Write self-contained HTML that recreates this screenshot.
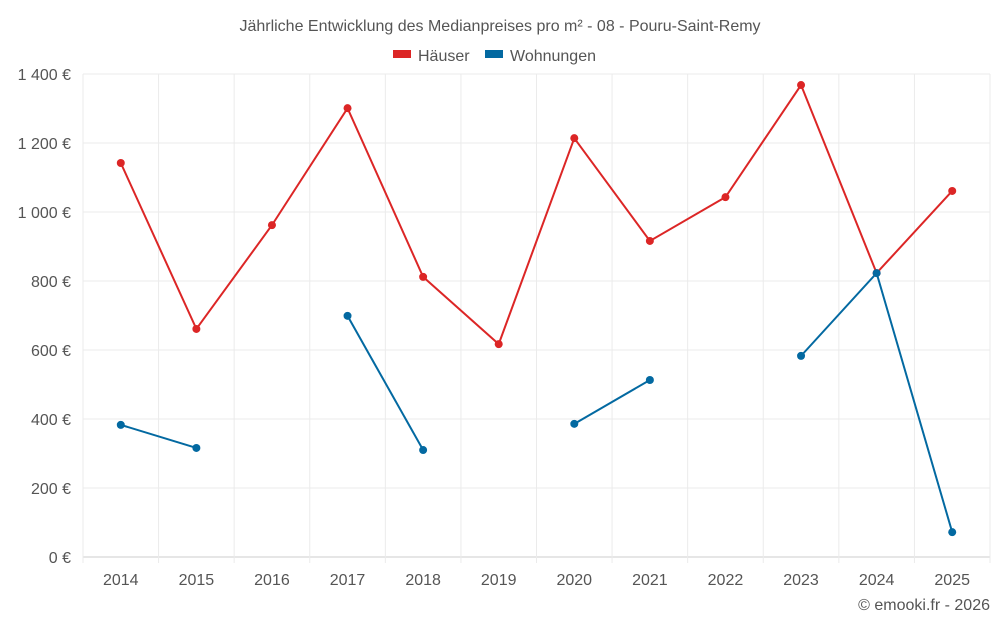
<!DOCTYPE html>
<html><head><meta charset="utf-8">
<style>
body{margin:0;background:#fff;font-family:"Liberation Sans",sans-serif;}
svg text{font-family:"Liberation Sans",sans-serif;}
</style></head>
<body>
<svg id="chart" width="1000" height="625" xmlns="http://www.w3.org/2000/svg">
<text x="500" y="31" text-anchor="middle" font-size="16" fill="#555">Jährliche Entwicklung des Medianpreises pro m² - 08 - Pouru-Saint-Remy</text>
<g><rect x="393" y="50" width="18" height="8" fill="#dc2626"/><text x="418" y="61" font-size="16" fill="#555">Häuser</text></g>
<g><rect x="485" y="50" width="18" height="8" fill="#0369a1"/><text x="510" y="61" font-size="16" fill="#555">Wohnungen</text></g>
<g id="grid"></g><g id="axes"></g><g id="series"></g>
<text x="990" y="610" text-anchor="end" font-size="16" fill="#555">© emooki.fr - 2026</text>
</svg>
<script>
const years=["2014","2015","2016","2017","2018","2019","2020","2021","2022","2023","2024","2025"];
const haeuser=[1142,661,962,1301,812,617,1214,916,1043,1368,823,1061];
const wohnungen=[383,316,null,699,310,null,386,513,null,583,823,72];
const yTicks=[0,200,400,600,800,1000,1200,1400];
const yTickLabels=["0 €","200 €","400 €","600 €","800 €","1 000 €","1 200 €","1 400 €"];
const L=83,R=990,T=74,B=557,yMax=1400;
const bw=(R-L)/years.length;
const xs=i=>L+bw*(i+0.5);
const ys=v=>B-(v/yMax)*(B-T);
const NS="http://www.w3.org/2000/svg";
function mk(tag,attrs,parent){const e=document.createElementNS(NS,tag);for(const k in attrs)e.setAttribute(k,attrs[k]);parent.appendChild(e);return e;}
const grid=document.getElementById('grid'),axes=document.getElementById('axes'),ser=document.getElementById('series');
yTicks.forEach((t,i)=>{
  const l=mk('line',{x1:L,x2:R,y1:ys(t),y2:ys(t),stroke:t===0?'#ccc':'#ebebeb'},grid);
  
  
  const tx=mk('text',{x:L-12,y:ys(t)+6,'text-anchor':'end','font-size':16,fill:'#555'},axes);
  tx.textContent=yTickLabels[i];
  
  
});
for(let i=0;i<=years.length;i++){
  const l=mk('line',{x1:L+bw*i,x2:L+bw*i,y1:T,y2:B+(i<years.length||true?6:0),stroke:'#ebebeb'},grid);
  
  
}
years.forEach((y,i)=>{
  const tx=mk('text',{x:xs(i),y:585,'text-anchor':'middle','font-size':16,fill:'#555'},axes);
  tx.textContent=y;
  
  
});
function draw(vals,color,name){
  let seg=[];
  const segs=[];
  vals.forEach((v,i)=>{if(v==null){if(seg.length)segs.push(seg);seg=[];}else seg.push([xs(i),ys(v)]);});
  if(seg.length)segs.push(seg);
  segs.forEach(s=>{
    if(s.length>1){
      const p=mk('polyline',{points:s.map(q=>q.join(',')).join(' '),fill:'none',stroke:color,'stroke-width':2},ser);
      
      
    }
  });
  vals.forEach((v,i)=>{
    if(v==null)return;
    const c=mk('circle',{cx:xs(i),cy:ys(v),r:4,fill:color},ser);
    
    
  });
}
draw(haeuser,'#dc2626','haeuser');
draw(wohnungen,'#0369a1','wohnungen');
</script>
</body></html>
